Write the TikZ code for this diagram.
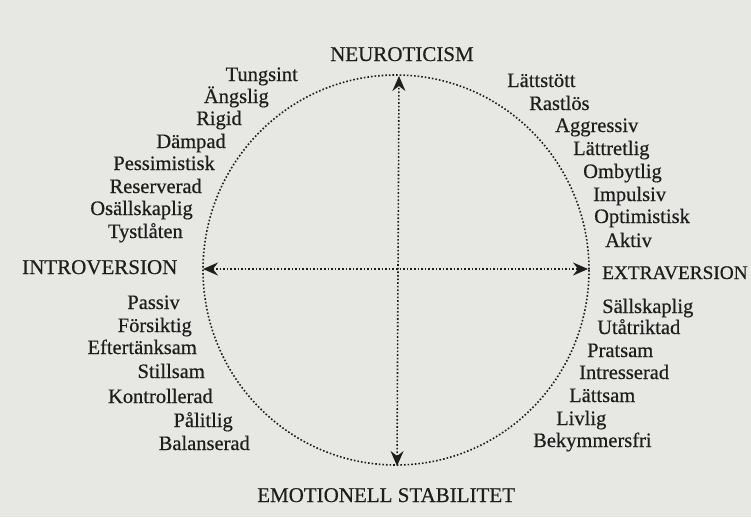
\documentclass[tikz,border=0pt]{standalone}
\usepackage{fontspec}
\setmainfont{Liberation Serif}
\newfontfamily\wordfont[FakeBold=0.5]{Liberation Serif}
\usetikzlibrary{arrows.meta}
\definecolor{paper}{HTML}{E7E7E4}
\definecolor{ink}{HTML}{1E1E1E}
\begin{document}
\begin{tikzpicture}[x=1pt,y=-1pt,
  word/.style={inner sep=0pt, text=ink, font=\wordfont\fontsize{20.5}{24}\selectfont},
  lw/.style={word, anchor=base east},
  rw/.style={word, anchor=base west},
  head/.style={inner sep=0pt, text=ink, anchor=base west, font=\wordfont\fontsize{21}{24}\selectfont},
  dotline/.style={draw=ink, line width=1.6pt, dash pattern=on 1.6pt off 2pt},
  tip/.style={},
  axis/.style={dotline, {Stealth[length=15pt,width=13pt,inset=5pt]}-{Stealth[length=15pt,width=13pt,inset=5pt]}}]
\fill[paper] (0,0) rectangle (751,517);
\useasboundingbox (0,0) rectangle (751,517);
% circle and axes
\coordinate (c) at (396,270);
\coordinate (top) at (399,76);
\coordinate (bot) at (397,466);
\coordinate (lft) at (203,269);
\coordinate (rgt) at (588,269);
\draw[dotline] (c) ellipse [x radius=193, y radius=195];
\draw[axis] (bot) -- (top);
\draw[axis] (lft) -- (rgt);
% headings
\node[head] (neu) at (330,61) {NEUROTICISM};
\node[head] (intro) at (22,274) {INTROVERSION};
\node[head, font=\wordfont\fontsize{19.3}{24}\selectfont] (extra) at (602,279) {EXTRAVERSION};
\node[head] (emo) at (257,502) {EMOTIONELL STABILITET};
% upper left
\node[lw] (a1) at (298,81) {Tungsint};
\node[lw] (a2) at (269,103) {Ängslig};
\node[lw] (a3) at (242,125) {Rigid};
\node[lw] (a4) at (226,148) {Dämpad};
\node[lw] (a5) at (215,170) {Pessimistisk};
\node[lw] (a6) at (202,193) {Reserverad};
\node[lw] (a7) at (193,215) {Osällskaplig};
\node[lw] (a8) at (183,238) {Tystlåten};
% upper right
\node[rw] (b1) at (507,87) {Lättstött};
\node[rw] (b2) at (529,110) {Rastlös};
\node[rw] (b3) at (555,132) {Aggressiv};
\node[rw] (b4) at (573,155) {Lättretlig};
\node[rw] (b5) at (583,178) {Ombytlig};
\node[rw] (b6) at (593,201) {Impulsiv};
\node[rw] (b7) at (594,223) {Optimistisk};
\node[rw] (b8) at (605,247) {Aktiv};
% lower left
\node[lw] (c1) at (180,309) {Passiv};
\node[lw] (c2) at (192,332) {Försiktig};
\node[lw] (c3) at (197,354) {Eftertänksam};
\node[lw] (c4) at (205,378) {Stillsam};
\node[lw] (c5) at (213,403) {Kontrollerad};
\node[lw] (c6) at (233,427) {Pålitlig};
\node[lw] (c7) at (250,450) {Balanserad};
% lower right
\node[rw] (d1) at (602,313) {Sällskaplig};
\node[rw] (d2) at (597,334) {Utåtriktad};
\node[rw] (d3) at (587,357) {Pratsam};
\node[rw] (d4) at (579,379) {Intresserad};
\node[rw] (d5) at (569,402) {Lättsam};
\node[rw] (d6) at (556,425) {Livlig};
\node[rw] (d7) at (533,447) {Bekymmersfri};
\end{tikzpicture}
\end{document}
